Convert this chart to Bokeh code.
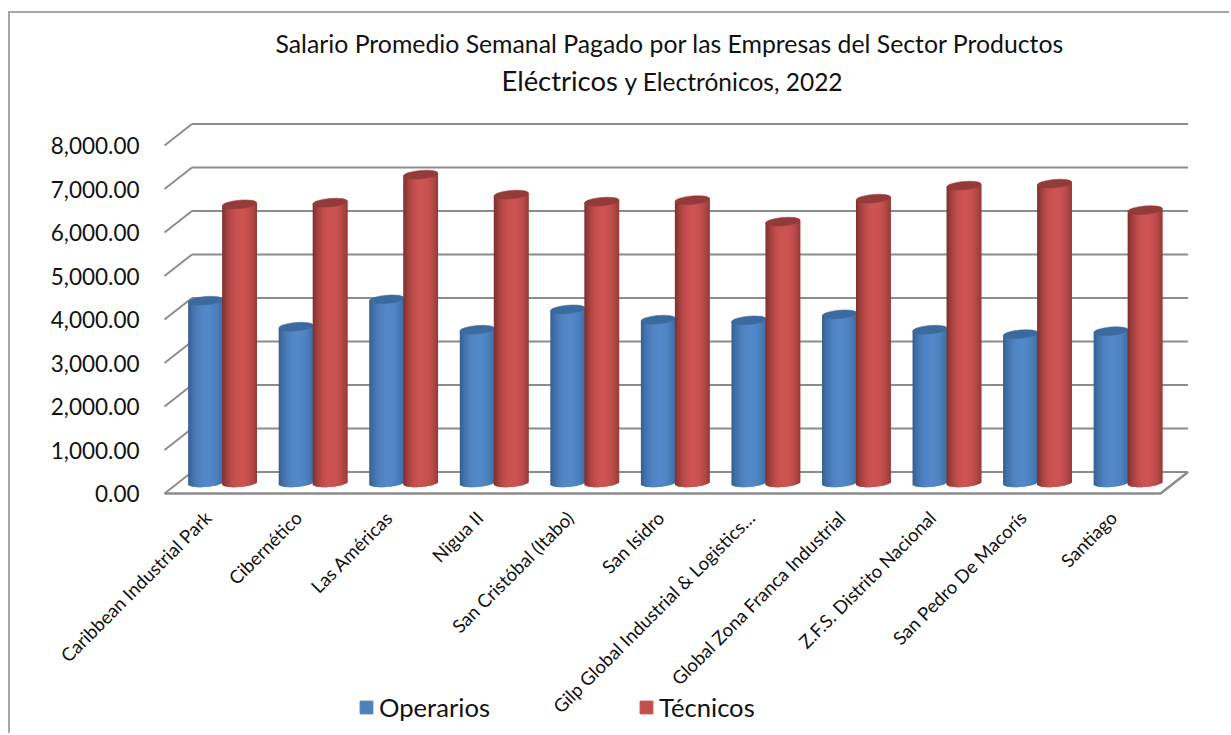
import numpy as np
from math import pi
from bokeh.plotting import figure
from bokeh.embed import file_html
from bokeh.resources import INLINE
from bokeh.core.properties import value
from bokeh.models import (Range1d, LinearAxis, FixedTicker, NumeralTickFormatter,
                          Legend, LegendItem)

categories = ["Caribbean Industrial Park", "Cibernético", "Las Américas", "Nigua II",
              "San Cristóbal (Itabo)", "San Isidro", "Gilp Global Industrial & Logistics…",
              "Global Zona Franca Industrial", "Z.F.S. Distrito Nacional",
              "San Pedro De Macorís", "Santiago"]
operarios = [4186, 3588, 4216, 3519, 3986, 3749, 3733, 3871, 3519, 3416, 3485]
tecnicos = [6400, 6440, 7084, 6624, 6463, 6497, 6003, 6532, 6831, 6877, 6268]
y_ticks = [0, 1000, 2000, 3000, 4000, 5000, 6000, 7000, 8000]
title_line1 = "Salario Promedio Semanal Pagado por las Empresas del Sector Productos"
title_line2a = "Eléctricos"
title_line2b = "y Electrónicos, 2022"

FONT = "Lato"
CX, CY = 10, 13                   # where the canvas starts on the page
W, H = 1231 - CX, 735 - CY
SLOT = 90.55                      # px per category
PX_Y = 1000 / 43.5                # value units per px
PAGE_X0, PAGE_Y0 = 164, 482.25    # page px of x=0 (front floor) and y=0 (mid depth)

def xd(px):
    return (px - PAGE_X0) / SLOT
def yd(py):
    return (PAGE_Y0 - py) * PX_Y

DX = 27.5 / SLOT                  # total depth, in x units
DY = 21.5 * PX_Y                  # total depth, in y units

x_start, x_end = xd(CX), xd(CX + W)
y_start, y_end = yd(CY + H), yd(CY)

p = figure(width=W, height=H, output_backend="svg", toolbar_location=None,
           x_range=Range1d(x_start, x_end), y_range=Range1d(y_start, y_end),
           y_axis_location=None, min_border=0,
           background_fill_color="white", border_fill_color="white")
p.outline_line_color = None
p.grid.visible = False
p.margin = (11, 0, 0, 8)
p.styles = {"border-left": "2px solid #a8a8a8", "border-top": "2px solid #a8a8a8"}

# value axis printed on the front edge of the left wall
p.extra_y_ranges = {"front": Range1d(y_start + DY / 2, y_end + DY / 2)}
yax = LinearAxis(y_range_name="front", ticker=FixedTicker(ticks=y_ticks),
                 formatter=NumeralTickFormatter(format="0,0.00"),
                 fixed_location=xd(150))
yax.axis_line_color = None
yax.major_tick_line_color = None
yax.minor_tick_line_color = None
yax.major_label_text_font = FONT
yax.major_label_text_font_size = "22.5px"
yax.major_label_text_color = "#111111"
yax.major_label_standoff = 5
p.add_layout(yax, "left")

# category axis
xax = p.xaxis[0]
xax.fixed_location = yd(498)
xax.ticker = FixedTicker(ticks=[i + 0.48 for i in range(len(categories))])
xax.major_label_overrides = {i + 0.48: c for i, c in enumerate(categories)}
xax.major_label_orientation = pi / 4
xax.major_label_text_font = FONT
xax.major_label_text_font_size = "18.5px"
xax.major_label_text_color = "#111111"
xax.axis_line_color = None
xax.major_tick_line_color = None
xax.minor_tick_line_color = None
xax.major_label_standoff = 10

# walls and floor
GRID = "#8c8c8c"
n = len(categories)
p.multi_line(xs=[[DX, DX + n] for _ in y_ticks],
             ys=[[v + DY / 2, v + DY / 2] for v in y_ticks],
             line_color=GRID, line_width=2)
p.multi_line(xs=[[DX, 0] for _ in y_ticks],
             ys=[[v + DY / 2, v - DY / 2] for v in y_ticks],
             line_color=GRID, line_width=2)
p.line(x=[0, n, n + DX], y=[-DY / 2, -DY / 2, DY / 2], line_color=GRID, line_width=2.5)

# cylinders
STRIPS = 34
HALF = 17.4 / SLOT                # cylinder half width, x units
B = 4.2 * PX_Y                    # elliptic half height, y units
TILT = 1.5 * PX_Y                 # rise of the right side, y units

def mix(a, b, t):
    return "#%02x%02x%02x" % tuple(int(round(a[k] + (b[k] - a[k]) * t)) for k in range(3))

def cylinders(vals, shift, edge, mid, cap):
    centers = np.arange(n) + 0.5 + DX / 2 + shift
    us = (np.arange(STRIPS) + 0.5) / STRIPS * 2 - 1
    left, right, top, bottom, color = [], [], [], [], []
    for c, v in zip(centers, vals):
        for u in us:
            left.append(c + (u - 1 / STRIPS) * HALF)
            right.append(c + min(1.0, u + 3 / STRIPS) * HALF)
            top.append(v + TILT * u)
            bottom.append(TILT * u - B * np.sqrt(max(0.0, 1 - u * u)))
            t = max(0.0, 1 - abs(u - 0.08) ** 2.2 / 1.25)
            color.append(mix(edge, mid, t))
    p.quad(left=left, right=right, top=top, bottom=bottom,
           fill_color=color, line_color=None)
    p.ellipse(x=centers, y=vals, width=2 * HALF, height=2 * B, angle=np.deg2rad(5),
              fill_color=cap, line_color=cap, line_width=0.5)

cylinders(operarios, -18.0 / SLOT, (0x33, 0x5c, 0x8c), (0x53, 0x88, 0xc9), "#3d6a9e")
cylinders(tecnicos, 16.0 / SLOT, (0x78, 0x2d, 0x2c), (0xcc, 0x54, 0x52), "#943b3a")

# title
p.text(x=[xd(275)], y=[yd(42.5)], text=[title_line1], text_font=value(FONT),
       text_font_size="24.8px", text_color="#111111", text_baseline="middle", text_align="left")
p.text(x=[xd(501)], y=[yd(80)], text=[title_line2a], text_font=value(FONT),
       text_font_size="27.4px", text_color="#111111", text_baseline="middle", text_align="left")
p.text(x=[xd(624)], y=[yd(81)], text=[title_line2b], text_font=value(FONT),
       text_font_size="24.5px", text_color="#111111", text_baseline="middle", text_align="left")

# legend
r1 = p.quad(left=[np.nan], right=[np.nan], top=[np.nan], bottom=[np.nan],
            fill_color="#4f81bd", line_color="#4f81bd")
r2 = p.quad(left=[np.nan], right=[np.nan], top=[np.nan], bottom=[np.nan],
            fill_color="#c0504d", line_color="#c0504d")
legend = Legend(items=[LegendItem(label="Operarios", renderers=[r1]),
                       LegendItem(label="Técnicos", renderers=[r2])],
                orientation="horizontal", location=(358 - CX, 735 - 722),
                spacing=148, padding=0, margin=0, glyph_width=16, glyph_height=16,
                label_standoff=5, label_text_font=FONT, label_text_font_size="25.6px",
                label_text_color="#111111", background_fill_alpha=0, border_line_color=None)
p.add_layout(legend, "center")

open("out.html", "w").write(file_html(p, INLINE))
